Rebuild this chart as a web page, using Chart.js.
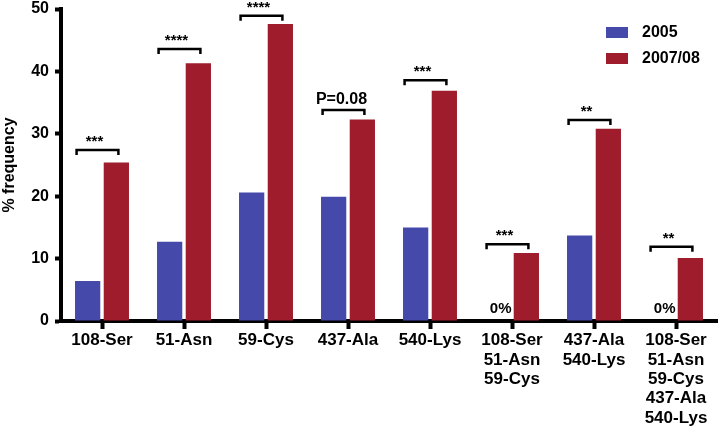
<!DOCTYPE html>
<html>
<head>
<title>Mutation frequency</title>
<script src="https://cdn.jsdelivr.net/npm/chart.js@4.4.1/dist/chart.umd.min.js"></script>
<style>
  body { margin: 0; background: #fff; }
  #wrap { width: 722px; height: 428px; }
</style>
</head>
<body>
<div id="wrap"><canvas id="myChart" width="722" height="428"></canvas></div>
<script>
// categories (multi-line labels as arrays)
const categories = ['108-Ser', '51-Asn', '59-Cys', '437-Ala', '540-Lys',
    ['108-Ser', '51-Asn', '59-Cys'],
    ['437-Ala', '540-Lys'],
    ['108-Ser', '51-Asn', '59-Cys', '437-Ala', '540-Lys']];
const freq2005 = [6.4, 12.7, 20.6, 19.9, 15.0, 0, 13.7, 0];
const freq2007 = [25.4, 41.3, 47.6, 32.3, 36.9, 10.9, 30.8, 10.1];
const sigLabels = ['***', '****', '****', 'P=0.08', '***', '***', '**', '**'];
const sigLevels = [27.4, 43.6, 48.9, 33.8, 38.6, 12.3, 32.2, 11.9];
const yTicks = [0, 10, 20, 30, 40, 50];

const FONT = '"Liberation Sans", Arial, sans-serif';
const BLUE = '#4449AA';
const RED = '#9E1C2C';

// brackets, stars, "0%" and the legend
const annotate = {
    id: 'annotate',
    afterDatasetsDraw(chart) {
        const ctx = chart.ctx;
        const xs = chart.scales.x, ys = chart.scales.y;
        const cw = xs.getPixelForValue(1) - xs.getPixelForValue(0);
        const blue = chart.getDatasetMeta(0);
        ctx.save();
        ctx.strokeStyle = '#000';
        ctx.fillStyle = '#000';
        ctx.lineWidth = 2.5;
        ctx.textAlign = 'center';
        ctx.textBaseline = 'alphabetic';
        sigLabels.forEach(function(lab, i) {
            const cx = xs.getPixelForValue(i);
            const l = cx - 0.31 * cw, r = cx + 0.2 * cw;
            const yy = ys.getPixelForValue(sigLevels[i]);
            ctx.beginPath();
            ctx.moveTo(l, yy + 5);
            ctx.lineTo(l, yy);
            ctx.lineTo(r, yy);
            ctx.lineTo(r, yy + 5);
            ctx.stroke();
            if (lab.indexOf('*') >= 0) {
                ctx.font = 'bold 15px ' + FONT;
                ctx.fillText(lab, (l + r) / 2 - 3, yy - 4);
            } else {
                ctx.font = 'bold 16px ' + FONT;
                ctx.fillText(lab, (l + r) / 2 - 2, yy - 6);
            }
        });
        // zero labels for empty 2005 bars
        ctx.font = 'bold 15px ' + FONT;
        freq2005.forEach(function(v, i) {
            if (v === 0) {
                ctx.fillText('0%', blue.data[i].x + 3, ys.getPixelForValue(0) - 8);
            }
        });
        ctx.restore();
    },
    afterDraw(chart) {
        const ctx = chart.ctx;
        ctx.save();
        ctx.font = 'bold 16px ' + FONT;
        ctx.textAlign = 'left';
        ctx.textBaseline = 'middle';
        chart.data.datasets.forEach(function(ds, i) {
            const top = 27 + i * 26;
            ctx.fillStyle = ds.backgroundColor;
            ctx.fillRect(606, top, 22, 11);
            ctx.fillStyle = '#000';
            ctx.fillText(ds.label, 642, top + 6);
        });
        ctx.restore();
    }
};

const ctx = document.getElementById('myChart');
const myChart = new Chart(ctx, {
    type: 'bar',
    data: {
        labels: categories,
        datasets: [
            { label: '2005', data: freq2005, backgroundColor: BLUE, borderWidth: 0 },
            { label: '2007/08', data: freq2007, backgroundColor: RED, borderWidth: 0 }
        ]
    },
    options: {
        responsive: false,
        animation: false,
        categoryPercentage: 0.7,
        barPercentage: 0.88,
        layout: { padding: { top: 9, right: 5, left: 0, bottom: 0 } },
        plugins: {
            legend: { display: false },
            tooltip: { enabled: false }
        },
        scales: {
            x: {
                z: 1,
                grid: { drawOnChartArea: false, drawTicks: true, tickLength: 8, tickWidth: 4, tickColor: '#000', offset: false },
                border: { display: true, color: '#000', width: 4 },
                ticks: {
                    color: '#000', padding: 2, maxRotation: 0, autoSkip: false,
                    font: { family: FONT, size: 17, weight: 'bold', lineHeight: 1.135 }
                },
                afterFit(s) { s.height = 107; s.paddingLeft = 0; s.paddingRight = 0; }
            },
            y: {
                min: 0,
                max: 50,
                afterBuildTicks(s) { s.ticks = yTicks.map(v => ({ value: v })); },
                grid: { drawOnChartArea: false, tickLength: 6, tickWidth: 4, tickColor: '#000' },
                border: { display: true, color: '#000', width: 4 },
                ticks: {
                    color: '#000', padding: 6,
                    font: { family: FONT, size: 16, weight: 'bold' }
                },
                title: {
                    display: true, text: '% frequency', color: '#000', padding: 0,
                    font: { family: FONT, size: 16, weight: 'bold', lineHeight: 1.2 }
                },
                afterFit(s) { s.width = 61; s.paddingTop = 0; s.paddingBottom = 0; }
            }
        }
    },
    plugins: [annotate]
});
</script>
</body>
</html>
